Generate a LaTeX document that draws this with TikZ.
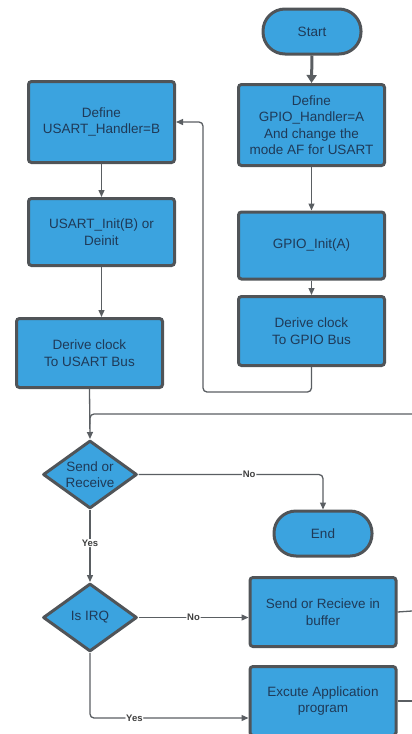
\documentclass[tikz,border=0pt]{standalone}
\usepackage{fontspec}
\setmainfont{Liberation Sans}
\usetikzlibrary{shapes.geometric,arrows.meta,calc}
\definecolor{boxfill}{HTML}{3BA3DF}
\definecolor{boxline}{HTML}{505458}
\definecolor{txt}{HTML}{1F3A58}
\definecolor{conline}{HTML}{5A5E62}
\tikzset{
  base/.style={draw=boxline, fill=boxfill, line width=3pt, text=txt, align=center,
    font=\fontsize{13.5}{16.5}\selectfont, inner sep=0pt},
  procbox/.style={base, rectangle, rounded corners=3pt, minimum width=146pt, minimum height=#1},
  procbox/.default=69pt,
  term/.style={base, rectangle, rounded corners=22pt, minimum width=98pt, minimum height=45pt},
  decide/.style={base, diamond, aspect=1.37, minimum width=94pt, minimum height=68pt, line join=round},
  dtext/.style={text=txt, align=center, font=\fontsize{13.5}{16.5}\selectfont},
  conn/.style={draw=conline, line width=1.3pt, rounded corners=4pt, -{Triangle[length=7pt,width=6pt]}},
  plain/.style={draw=conline, line width=1.3pt, rounded corners=4pt},
  lbl/.style={fill=white, inner sep=0.8pt, font=\bfseries\fontsize{9.5}{10}\selectfont, text=black!75}
}
\begin{document}
\begin{tikzpicture}[x=1pt, y=-1pt]
\useasboundingbox (0,0) rectangle (412,734);
\clip (0,0) rectangle (412,734);

% nodes
\node[term] (start) at (312,31.5) {Start};
\node[procbox=81pt] (gdef) at (311.5,125) {Define\\GPIO\_Handler=A\\And change the\\mode AF for USART};
\node[procbox=67pt] (ginit) at (311.5,245.5) {GPIO\_Init(A)};
\node[procbox=69pt] (gclk) at (311.5,331) {Derive clock\\To GPIO Bus};
\node[procbox=81pt] (udef) at (101.5,122) {Define\\USART\_Handler=B};
\node[procbox=67pt] (uinit) at (101.5,232) {USART\_Init(B) or\\Deinit};
\node[procbox=69pt] (uclk) at (89.5,353) {Derive clock\\To USART Bus};
\node[decide] (send) at (90,474.5) {};
\node[dtext] (sendt) at (send.center) {Send or\\Receive};
\node[term] (end) at (323,533.5) {End};
\node[decide] (irq) at (90,617.5) {};
\node[dtext] (irqt) at (irq.center) {Is IRQ};
\node[procbox=69pt] (buf) at (323,612) {Send or Recieve in\\buffer};
\node[procbox=69pt] (exec) at (323,701) {Excute Application\\program};

% helper coordinates
\coordinate (rin) at (412,414);
\coordinate (join) at (90,424);
\coordinate (bufout) at (412,611);
\coordinate (execout) at (412,701);
\coordinate (gturn) at (203,392);

% connectors
\draw[draw=conline, line width=3pt, -{Triangle[length=8pt,width=10pt]}] (start.south) -- (gdef.north);
\draw[conn] (gdef.south) -- (ginit.north);
\draw[conn] (ginit.south) -- (gclk.north);
\draw[conn] (gclk.south) |- (gturn) |- (udef.east);
\draw[conn] (udef.south) -- (uinit.north);
\draw[conn] (uinit.south) -- (uinit.south |- uclk.north);
\draw[conn] (uclk.south) -- (send.north);
\draw[plain] (rin) -| (join);
\draw[conn] (send.east) -| node[lbl, pos=0.3] (lno1) {No} (end.north);
\draw[conn] (send.south) -- node[lbl, pos=0.46] (lyes1) {Yes} (irq.north);
\draw[conn] (irq.east) -- node[lbl, pos=0.5] (lno2) {No} (irq.east -| buf.west);
\draw[conn] (irq.south) |- node[lbl, pos=0.64] (lyes2) {Yes} ([yshift=-17pt]exec.west);
\draw[plain] (buf.east) -- (bufout);
\draw[plain] (exec.east) -- (execout);
\end{tikzpicture}
\end{document}
